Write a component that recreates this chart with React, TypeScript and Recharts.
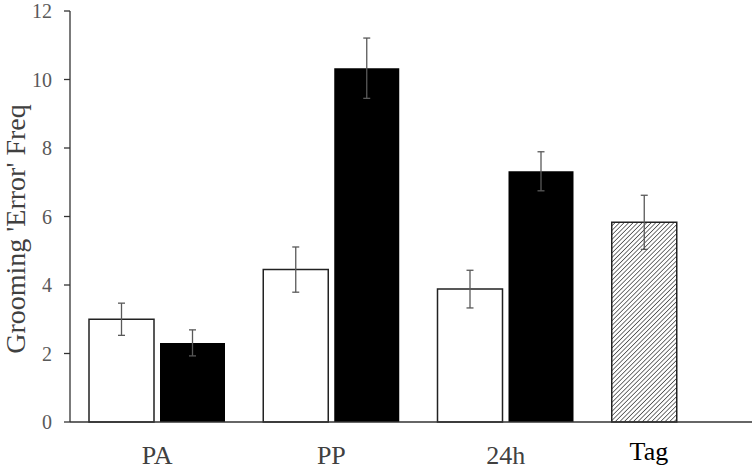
import { BarChart, Bar, XAxis, YAxis, ErrorBar, Cell } from 'recharts'

const categories = ['PA', 'PP', '24h', 'Tag']
const openValues = [3.0, 4.45, 3.88, 5.83]
const openErrors = [0.47, 0.66, 0.55, 0.79]
const filledValues = [2.31, 10.33, 7.32, null]
const filledErrors = [0.38, 0.88, 0.57, null]
const yTicks = [0, 2, 4, 6, 8, 10, 12]

const data = categories.map((name, i) => ({
  name,
  open: openValues[i],
  openErr: openErrors[i],
  filled: filledValues[i],
  filledErr: filledErrors[i],
}))

const FONT = 'Liberation Serif, Times New Roman, serif'

function CategoryTick(props: any) {
  const { x, y, payload } = props
  const isTag = payload.value === 'Tag'
  return (
    <text
      x={x + (isTag ? -31 : 0)}
      y={y + (isTag ? 36 : 40)}
      textAnchor="middle"
      fontSize={26}
      fontFamily={FONT}
      fill={isTag ? '#000000' : '#404040'}
    >
      {payload.value}
    </text>
  )
}

function AxisTitle() {
  return (
    <text
      x={15}
      y={229}
      transform="rotate(-90 15 229)"
      textAnchor="middle"
      dominantBaseline="central"
      fontSize={28}
      fontFamily={FONT}
      fill="#404040"
    >
      Grooming 'Error' Freq
    </text>
  )
}

export default function App() {
  return (
    <div style={{ position: 'fixed', top: 0, left: 0, width: 752, height: 469, overflow: 'hidden', background: '#fff' }}>
      <BarChart
        width={767}
        height={469}
        data={data}
        margin={{ top: 11, right: 0, left: 0, bottom: 0 }}
        barSize={65}
        barGap={6}
      >
        <defs>
          <pattern id="hatch" patternUnits="userSpaceOnUse" width="3.2" height="3.2" patternTransform="rotate(45)">
            <rect width="3.2" height="3.2" fill="#ffffff" />
            <line x1="0" y1="0" x2="0" y2="3.2" stroke="#444444" strokeWidth="1.5" />
          </pattern>
        </defs>
        <XAxis
          dataKey="name"
          height={47}
          tickLine={false}
          tickSize={0}
          tick={<CategoryTick />}
          axisLine={{ stroke: '#333333', strokeWidth: 1.3 }}
        />
        <YAxis
          width={70}
          domain={[0, 12]}
          ticks={yTicks}
          interval={0}
          tickSize={6}
          tickMargin={12}
          axisLine={{ stroke: '#333333', strokeWidth: 1.3 }}
          tickLine={{ stroke: '#333333', strokeWidth: 1.3 }}
          tick={{ fontSize: 20, fontFamily: FONT, fill: '#595959' }}
          label={<AxisTitle />}
        />
        <Bar dataKey="open" fill="#ffffff" stroke="#222222" strokeWidth={1.5} isAnimationActive={false}>
          {data.map((d) => (
            <Cell key={d.name} fill={d.name === 'Tag' ? 'url(#hatch)' : '#ffffff'} />
          ))}
          <ErrorBar dataKey="openErr" width={3.5} stroke="#595959" strokeWidth={1.3} />
        </Bar>
        <Bar dataKey="filled" fill="#000000" isAnimationActive={false}>
          <ErrorBar dataKey="filledErr" width={3.5} stroke="#595959" strokeWidth={1.3} />
        </Bar>
      </BarChart>
    </div>
  )
}
